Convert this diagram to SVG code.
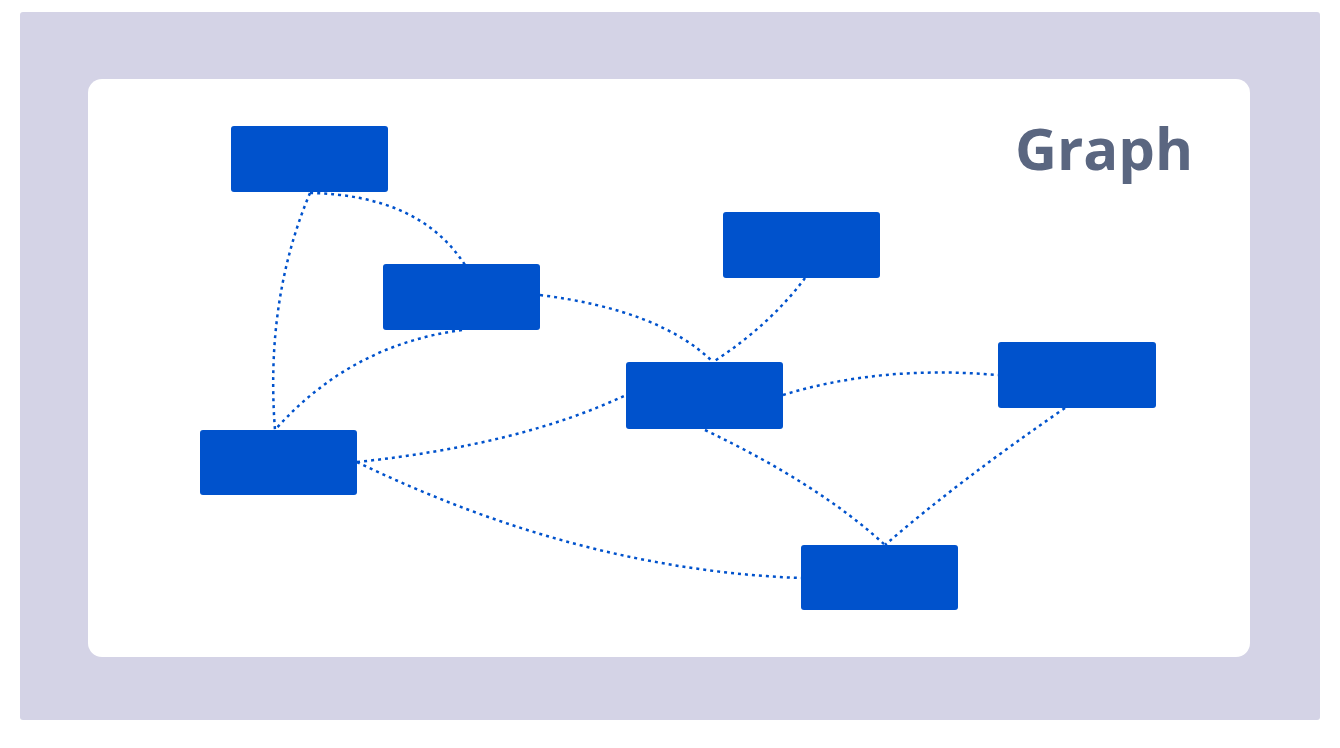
<svg xmlns="http://www.w3.org/2000/svg" width="1340" height="748" viewBox="0 0 1340 748">
<style>
.n{fill:#0052cc}
.e{fill:none;stroke:#0052cc;stroke-width:2.5;stroke-dasharray:3 4}
</style>
<rect x="20" y="12" width="1300" height="708" rx="3" fill="#d4d3e6"/>
<rect x="88" y="79" width="1162" height="578" rx="14" fill="#ffffff"/>
<text x="1104" y="170" text-anchor="middle" font-family="Open Sans, sans-serif" font-weight="bold" font-size="58" fill="#5a6680">Graph</text>
<g id="connectors">
<path class="e" d="M310,193 Q420,195 465,265"/>
<path class="e" d="M310,193 Q265,300 275,430"/>
<path class="e" d="M462,330 Q350,345 275,430"/>
<path class="e" d="M540,295 Q660,310 713,362"/>
<path class="e" d="M805,278 Q770,325 713,362"/>
<path class="e" d="M783,395 Q880,365 998,375"/>
<path class="e" d="M357,462 Q520,445 626,395"/>
<path class="e" d="M357,462 Q580,570 801,578"/>
<path class="e" d="M705,430 Q820,485 885,545"/>
<path class="e" d="M1065,408 Q960,480 885,545"/>
</g>
<g id="nA"><rect class="n" x="231" y="126" width="157" height="66" rx="3"/></g>
<g id="nB"><rect class="n" x="383" y="264" width="157" height="66" rx="3"/></g>
<g id="nC"><rect class="n" x="723" y="212" width="157" height="66" rx="3"/></g>
<g id="nD"><rect class="n" x="626" y="362" width="157" height="67" rx="3"/></g>
<g id="nE"><rect class="n" x="998" y="342" width="158" height="66" rx="3"/></g>
<g id="nF"><rect class="n" x="200" y="430" width="157" height="65" rx="3"/></g>
<g id="nG"><rect class="n" x="801" y="545" width="157" height="65" rx="3"/></g>
</svg>
